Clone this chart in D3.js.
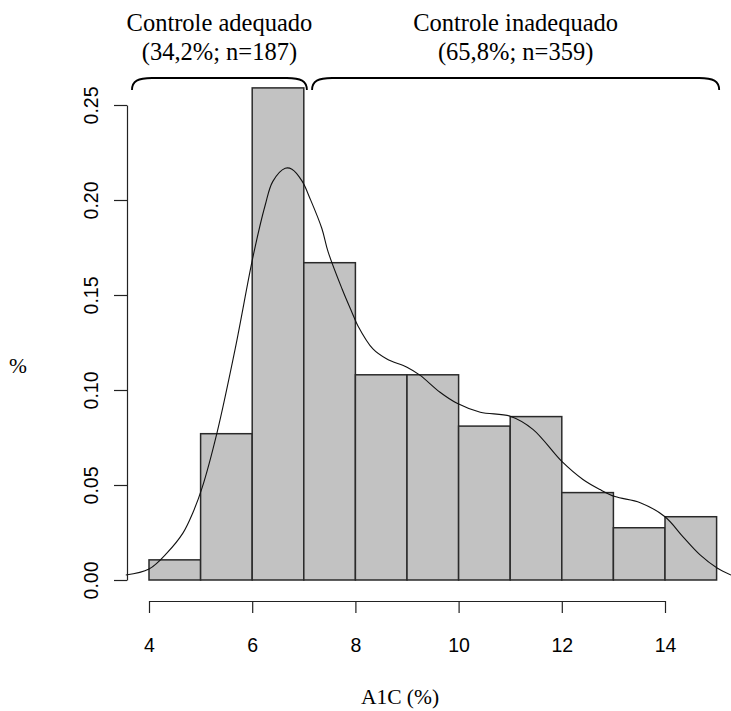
<!DOCTYPE html>
<html lang="pt">
<head>
<meta charset="utf-8" />
<title>A1C</title>
<script src="https://d3js.org/d3.v7.min.js"></script>
<style>
    body { margin: 0; background: #fff; }
    svg { display: block; }
    .serif { font-family: "Liberation Serif", "Times New Roman", Times, serif; }
</style>
</head>
<body>
<svg id="chart"></svg>
<script>
    let width = 731,
        height = 711;

    // histogram bins (A1C %) and relative frequency
    var binEdges = [4, 5, 6, 7, 8, 9, 10, 11, 12, 13, 14, 15];
    var binValues = [0.0106, 0.077, 0.259, 0.167, 0.108, 0.108, 0.081, 0.086, 0.046, 0.0275, 0.0333];

    // density curve
    var densX = [3.55, 4.0, 4.35, 4.66, 4.85, 5.03, 5.32, 5.67, 6.02, 6.25, 6.4, 6.64, 6.77, 6.97, 7.12, 7.35,
        7.47, 7.74, 7.93, 8.05, 8.34, 8.61, 9.0, 9.25, 9.64, 9.97, 10.42, 11.0, 11.44, 12.0, 12.41, 12.74,
        13.03, 13.52, 14.0, 14.35, 14.68, 15.01, 15.28];
    var densY = [0.0026, 0.0058, 0.0143, 0.0248, 0.0354, 0.0486, 0.0777, 0.1216, 0.1707, 0.1971, 0.2098, 0.2167,
        0.2162, 0.2098, 0.2008, 0.185, 0.1728, 0.1533, 0.1411, 0.1337, 0.1216, 0.1163, 0.112, 0.1078, 0.0988,
        0.093, 0.0883, 0.0862, 0.0793, 0.0624, 0.0529, 0.0476, 0.0439, 0.0407, 0.0333, 0.0227, 0.0132, 0.0063, 0.0026];

    var xTicks = [4, 6, 8, 10, 12, 14];
    var yTicks = [0, 0.05, 0.10, 0.15, 0.20, 0.25];

    // brackets on top: label lines and the range they cover
    var groupLabels = [["Controle adequado", "(34,2%; n=187)"], ["Controle inadequado", "(65,8%; n=359)"]];
    var groupFrom = [3.67, 7.16];
    var groupTo = [7.06, 15.05];

    let svg = d3.select("#chart").attr("width", width).attr("height", height);

    let x = d3.scaleLinear().domain([4, 14]).range([149, 665]);
    let y = d3.scaleLinear().domain([0, 0.25]).range([580, 105]);

    // bars
    let bins = binValues.map((v, i) => ({ x0: binEdges[i], x1: binEdges[i + 1], v: v }));
    svg.append("g")
        .selectAll("rect")
        .data(bins)
        .enter()
        .append("rect")
        .attr("x", d => x(d.x0))
        .attr("y", d => y(d.v))
        .attr("width", d => x(d.x1) - x(d.x0))
        .attr("height", d => y(0) - y(d.v))
        .attr("fill", "#c2c2c2")
        .attr("stroke", "#2a2a2a")
        .attr("stroke-width", 1.5);

    // density line
    let line = d3.line()
        .x(d => x(d[0]))
        .y(d => y(d[1]))
        .curve(d3.curveCatmullRom);

    svg.append("path")
        .datum(densX.map((v, i) => [v, densY[i]]))
        .attr("d", line)
        .attr("fill", "none")
        .attr("stroke", "#111")
        .attr("stroke-width", 1.1);

    // y axis (R style, rotated labels)
    let yAxis = svg.append("g")
        .attr("transform", "translate(127,0)")
        .call(d3.axisLeft(y).tickValues(yTicks).tickFormat(d3.format(".2f")).tickSize(13).tickSizeOuter(0));
    yAxis.select(".domain").attr("stroke", "#222").attr("stroke-width", 1.2);
    yAxis.selectAll(".tick line").attr("stroke", "#222").attr("stroke-width", 1.2);
    yAxis.selectAll(".tick text")
        .attr("x", null).attr("dy", null)
        .attr("transform", "translate(-36,0) rotate(-90)")
        .attr("text-anchor", "middle")
        .attr("dominant-baseline", "central")
        .style("font-family", "'Liberation Sans', Arial, sans-serif")
        .style("font-size", "19.5px")
        .attr("fill", "#000");

    // x axis
    let xAxis = svg.append("g")
        .attr("transform", "translate(0,601)")
        .call(d3.axisBottom(x).tickValues(xTicks).tickFormat(d3.format("d")).tickSize(12).tickSizeOuter(0));
    xAxis.select(".domain").attr("stroke", "#222").attr("stroke-width", 1.2);
    xAxis.selectAll(".tick line").attr("stroke", "#222").attr("stroke-width", 1.2);
    xAxis.selectAll(".tick text")
        .attr("y", 44).attr("dy", null)
        .attr("dominant-baseline", "central")
        .style("font-family", "'Liberation Sans', Arial, sans-serif")
        .style("font-size", "19.5px")
        .attr("fill", "#000");

    // axis titles
    svg.append("text")
        .attr("class", "serif")
        .attr("x", 400).attr("y", 704)
        .attr("text-anchor", "middle")
        .style("font-size", "21.5px")
        .text("A1C (%)");

    svg.append("text")
        .attr("class", "serif")
        .attr("x", 18).attr("y", 373)
        .attr("text-anchor", "middle")
        .style("font-size", "21.5px")
        .text("%");

    // brackets and group labels
    let braceTop = 78;
    groupLabels.forEach((lab, i) => {
        let x0 = x(groupFrom[i]), x1 = x(groupTo[i]);
        let drop = 12;
        svg.append("path")
            .attr("d", "M" + x0 + "," + (braceTop + drop) +
                " C" + x0 + "," + (braceTop + 3) + " " + (x0 + 6) + "," + braceTop + " " + (x0 + 20) + "," + braceTop +
                " L" + (x1 - 20) + "," + braceTop +
                " C" + (x1 - 6) + "," + braceTop + " " + x1 + "," + (braceTop + 3) + " " + x1 + "," + (braceTop + drop))
            .attr("fill", "none")
            .attr("stroke", "#000")
            .attr("stroke-width", 1.8);

        let cx = (x0 + x1) / 2;
        svg.append("text")
            .attr("class", "serif")
            .attr("x", cx).attr("y", 31)
            .attr("text-anchor", "middle")
            .style("font-size", "24.5px")
            .text(lab[0]);
        svg.append("text")
            .attr("class", "serif")
            .attr("x", cx).attr("y", 60)
            .attr("text-anchor", "middle")
            .style("font-size", "24.5px")
            .text(lab[1]);
    });
</script>
</body>
</html>
